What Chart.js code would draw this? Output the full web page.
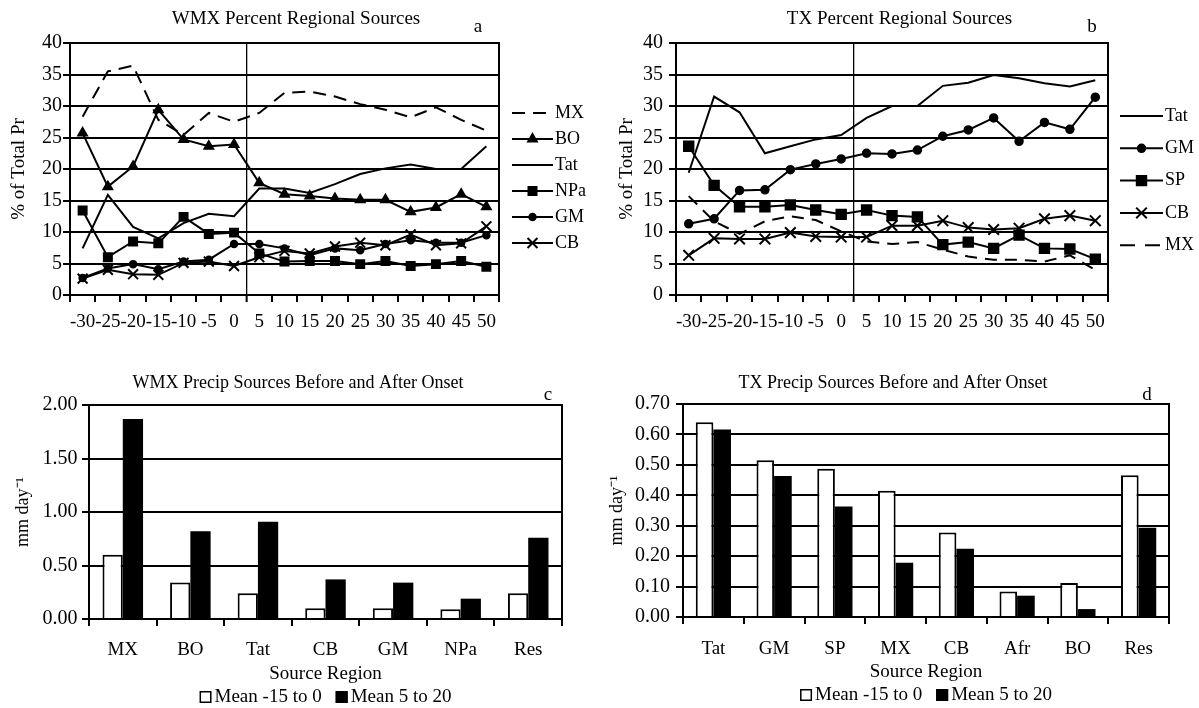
<!DOCTYPE html>
<html><head><meta charset="utf-8">
<script src="https://cdn.jsdelivr.net/npm/chart.js@4.4.1/dist/chart.umd.min.js"></script>
<style>
html,body{margin:0;padding:0;background:#fff;}
body{width:1199px;height:708px;position:relative;overflow:hidden;}
canvas{position:absolute;display:block;}
</style></head><body>
<canvas id="ca" width="592" height="345" style="left:0;top:0"></canvas>
<canvas id="cb" width="599" height="345" style="left:600px;top:0"></canvas>
<canvas id="cc" width="596" height="348" style="left:0;top:360px"></canvas>
<canvas id="cd" width="586" height="348" style="left:600px;top:360px"></canvas>
<script>
// ---------- DATA ----------
const days = ['-30','-25','-20','-15','-10','-5','0','5','10','15','20','25','30','35','40','45','50'];

// Panel a: WMX percent regional sources
const wmxMX  = [28.3,35.5,36.4,27.8,25.4,28.9,27.5,28.9,32.1,32.3,31.5,30.3,29.4,28.2,29.8,27.8,26.1];
const wmxBO  = [25.7,17.2,20.4,29.4,24.7,23.6,23.9,17.8,16.0,15.7,15.3,15.1,15.1,13.2,13.9,16.0,14.0];
const wmxTat = [7.4,15.9,10.8,9.0,11.4,12.9,12.5,16.9,16.9,16.2,17.6,19.2,20.1,20.7,20.0,20.0,23.6];
const wmxNPa = [13.4,6.0,8.5,8.2,12.4,9.7,9.9,6.6,5.3,5.4,5.4,4.9,5.4,4.6,4.9,5.4,4.5];
const wmxGM  = [2.7,4.2,4.9,4.1,5.3,5.6,8.1,8.1,7.4,6.3,7.4,7.1,8.1,8.7,8.3,8.3,9.5];
const wmxCB  = [2.6,4.0,3.3,3.2,5.1,5.3,4.6,6.0,7.0,6.6,7.7,8.3,7.9,9.6,7.9,8.2,10.9];

// Panel b: TX percent regional sources
const txTat = [19.4,31.5,29.0,22.5,23.6,24.7,25.4,28.1,30.0,30.0,33.2,33.7,34.9,34.4,33.6,33.1,34.1];
const txGM  = [11.3,12.1,16.6,16.7,19.9,20.8,21.6,22.5,22.4,23.0,25.2,26.2,28.1,24.4,27.4,26.3,31.4];
const txSP  = [23.6,17.4,14.0,14.0,14.3,13.5,12.8,13.5,12.6,12.4,8.0,8.4,7.4,9.5,7.4,7.3,5.7];
const txCB  = [6.3,9.0,8.9,8.9,9.9,9.3,9.2,9.2,11.0,11.0,11.8,10.7,10.4,10.6,12.1,12.6,11.8];
const txMX  = [15.7,11.7,9.7,11.7,12.5,11.9,10.1,8.5,8.1,8.4,7.2,6.1,5.6,5.6,5.3,6.3,4.0];

// Panel c: WMX precip sources (mm/day)
const wmxRegions = ['MX','BO','Tat','CB','GM','NPa','Res'];
const wmxBefore  = [0.60,0.34,0.24,0.10,0.10,0.09,0.24];
const wmxAfter   = [1.87,0.82,0.91,0.37,0.34,0.19,0.76];

// Panel d: TX precip sources (mm/day)
const txRegions = ['Tat','GM','SP','MX','CB','Afr','BO','Res'];
const txBefore  = [0.64,0.515,0.487,0.415,0.278,0.084,0.112,0.466];
const txAfter   = [0.616,0.463,0.363,0.178,0.224,0.070,0.026,0.293];

const legendBefore = 'Mean -15 to 0';
const legendAfter  = 'Mean 5 to 20';

// ---------- STYLE ----------
const SERIF = "'Liberation Serif','Times New Roman',serif";
Chart.defaults.font.family = SERIF;
Chart.defaults.color = '#000';
Chart.defaults.animation = false;

const framePlugin = {
  id: 'frame',
  beforeDatasetsDraw(chart) {
    const a = chart.chartArea, ctx = chart.ctx;
    ctx.save(); ctx.strokeStyle = '#000'; ctx.lineWidth = 2;
    ctx.strokeRect(a.left, a.top, a.right - a.left, a.bottom - a.top);
    ctx.restore();
  }
};

const annotPlugin = {
  id: 'annot',
  afterDraw(chart, args, o) {
    const ctx = chart.ctx;
    ctx.save();
    ctx.fillStyle = '#000'; ctx.strokeStyle = '#000';
    if (o.letter) {
      ctx.font = '19px ' + SERIF; ctx.textAlign = 'center'; ctx.textBaseline = 'alphabetic';
      ctx.fillText(o.letter.text, o.letter.x, o.letter.y);
    }
    if (o.lines) {
      const L = o.lines;
      ctx.font = '18px ' + SERIF; ctx.textAlign = 'left'; ctx.textBaseline = 'middle';
      L.order.forEach((di, i) => {
        const ds = chart.data.datasets[di];
        const y = L.y0 + i * L.dy;
        ctx.lineWidth = 2; ctx.setLineDash(ds.legendDash || ds.borderDash || []);
        ctx.beginPath(); ctx.moveTo(L.x0, y); ctx.lineTo(L.x0 + L.len, y); ctx.stroke();
        ctx.setLineDash([]);
        if (ds.pointRadius > 0) {
          ctx.fillStyle = '#000'; ctx.lineWidth = ds.pointBorderWidth || 1.5;
          Chart.helpers.drawPoint(ctx, {pointStyle: ds.pointStyle, radius: ds.pointRadius, borderWidth: ds.pointBorderWidth || 1.5, rotation: 0}, L.x0 + L.len / 2, y);
        }
        ctx.fillStyle = '#000';
        ctx.fillText(ds.label, L.x0 + L.len + 2, y);
      });
    }
    if (o.boxes) {
      const B = o.boxes;
      ctx.font = '19px ' + SERIF; ctx.textAlign = 'left'; ctx.textBaseline = 'middle';
      const items = chart.data.datasets.map(ds => ({ds, w: B.box + B.gap + ctx.measureText(ds.label).width}));
      const total = items.reduce((s, it) => s + it.w, 0) + B.itemGap * (items.length - 1);
      const a = chart.chartArea;
      let x = (a.left + a.right) / 2 - total / 2;
      items.forEach(it => {
        ctx.fillStyle = it.ds.backgroundColor; ctx.strokeStyle = '#000'; ctx.lineWidth = 1.5;
        ctx.fillRect(x, B.y - B.box / 2, B.box, B.box);
        ctx.strokeRect(x + 0.75, B.y - B.box / 2 + 0.75, B.box - 1.5, B.box - 1.5);
        ctx.fillStyle = '#000';
        ctx.fillText(it.ds.label, x + B.box + B.gap, B.y);
        x += it.w + B.itemGap;
      });
    }
    ctx.restore();
  }
};

function lineDs(label, data, style) {
  return Object.assign({label, data, borderColor: '#000', backgroundColor: '#000', borderWidth: 2,
    pointBackgroundColor: '#000', pointBorderColor: '#000', pointBorderWidth: 1.5, tension: 0, fill: false,
    pointRadius: 0, pointHoverRadius: 0}, style);
}

function lineChart(id, title, datasets, geo) {
  return new Chart(document.getElementById(id), {
    type: 'line',
    data: {labels: days, datasets},
    plugins: [framePlugin, annotPlugin],
    options: {
      responsive: false, animation: false,
      layout: {padding: 0},
      plugins: {
        legend: {display: false}, tooltip: {enabled: false},
        title: {display: true, text: title, color: '#000', font: {size: 19, weight: 'normal'}, padding: {top: 7.6, bottom: 12.6}},
        annot: {letter: geo.letter, lines: geo.lines}
      },
      scales: {
        x: {
          type: 'category', offset: true,
          grid: {offset: true, drawOnChartArea: true, drawTicks: true, tickLength: 7, tickColor: '#000', tickWidth: 2,
            color: c => (c.index === 7 ? '#000' : 'rgba(0,0,0,0)'), lineWidth: c => (c.index === 7 ? 1.3 : 2)},
          border: {display: true, color: '#000', width: 2},
          ticks: {font: {size: 19}, color: '#000', padding: geo.xPad, maxRotation: 0, minRotation: 0, autoSkip: false},
          afterFit: s => { s.height = 50; }
        },
        y: {
          min: 0, max: 40,
          ticks: {stepSize: 5, font: {size: 20}, color: '#000', padding: geo.yPad},
          grid: {color: '#000', lineWidth: 2, tickLength: 7},
          border: {display: true, color: '#000', width: 2},
          title: {display: true, text: '% of Total Pr', color: '#000', font: {size: 19}, padding: {top: geo.yTitlePad, bottom: 0}},
          afterFit: s => { s.width = geo.left; }
        },
        yR: {
          position: 'right', display: true,
          grid: {display: false}, ticks: {display: false}, border: {display: false},
          afterFit: s => { s.width = geo.right; }
        }
      }
    }
  });
}

function barChart(id, title, labels, before, after, geo) {
  return new Chart(document.getElementById(id), {
    type: 'bar',
    data: {labels, datasets: [
      {label: legendBefore, data: before, backgroundColor: '#fff', borderColor: '#000', borderWidth: 2},
      {label: legendAfter, data: after, backgroundColor: '#000', borderColor: '#000', borderWidth: 0}
    ]},
    plugins: [framePlugin, annotPlugin],
    options: {
      responsive: false, animation: false,
      categoryPercentage: geo.catPct, barPercentage: 1.0,
      layout: {padding: {bottom: geo.padBottom}},
      plugins: {
        legend: {display: false}, tooltip: {enabled: false},
        title: {display: true, text: title, color: '#000', font: {size: 18, weight: 'normal'}, padding: {top: 12.2, bottom: geo.titleBottom}},
        annot: {letter: geo.letter, boxes: {y: geo.legendY, box: 12, gap: 3, itemGap: 14}}
      },
      scales: {
        x: {
          grid: {offset: true, drawOnChartArea: false, tickLength: 7, color: '#000', lineWidth: 2},
          border: {display: true, color: '#000', width: 2},
          ticks: {font: {size: 19}, color: '#000', padding: geo.xPad, maxRotation: 0, autoSkip: false},
          title: {display: true, text: 'Source Region', color: '#000', font: {size: 19}, padding: {top: 0, bottom: 0}},
          afterFit: s => { s.height = 66.4; }
        },
        y: {
          min: 0, max: geo.max,
          ticks: {stepSize: geo.step, font: {size: 20}, color: '#000', padding: geo.yPad, callback: v => Number(v).toFixed(2)},
          grid: {color: '#000', lineWidth: 2, tickLength: 7},
          border: {display: true, color: '#000', width: 2},
          title: {display: true, text: 'mm day\u207B\u00B9', color: '#000', font: {size: 18}, padding: {top: geo.yTitlePad, bottom: 0}},
          afterFit: s => { s.width = geo.left; }
        },
        yR: {
          position: 'right', display: true,
          grid: {display: false}, ticks: {display: false}, border: {display: false},
          afterFit: s => { s.width = geo.right; }
        }
      }
    }
  });
}

lineChart('ca', 'WMX Percent Regional Sources', [
  lineDs('MX', wmxMX, {borderDash: [13, 8]}),
  lineDs('BO', wmxBO, {pointStyle: 'triangle', pointRadius: 5.5}),
  lineDs('Tat', wmxTat, {}),
  lineDs('NPa', wmxNPa, {pointStyle: 'rect', pointRadius: 6}),
  lineDs('GM', wmxGM, {pointStyle: 'circle', pointRadius: 3.5}),
  lineDs('CB', wmxCB, {pointStyle: 'crossRot', pointRadius: 7, pointBorderWidth: 2})
], {left: 70, right: 93, xPad: 8.6, yPad: 1, yTitlePad: 7.6,
    letter: {text: 'a', x: 478, y: 32},
    lines: {order: [0,1,2,3,4,5], x0: 512, len: 41, y0: 113, dy: 26}});

lineChart('cb', 'TX Percent Regional Sources', [
  lineDs('Tat', txTat, {}),
  lineDs('GM', txGM, {pointStyle: 'circle', pointRadius: 4}),
  lineDs('SP', txSP, {pointStyle: 'rect', pointRadius: 7}),
  lineDs('CB', txCB, {pointStyle: 'crossRot', pointRadius: 7.5, pointBorderWidth: 2}),
  lineDs('MX', txMX, {borderDash: [12, 8], legendDash: [15, 10]})
], {left: 76, right: 91, xPad: 8.6, yPad: 6, yTitlePad: 15.6,
    letter: {text: 'b', x: 492, y: 32},
    lines: {order: [0,1,2,3,4], x0: 520, len: 43, y0: 116, dy: 32.3}});

barChart('cc', 'WMX Precip Sources Before and After Onset', wmxRegions, wmxBefore, wmxAfter,
  {left: 89, right: 34, max: 2, step: 0.5, catPct: 0.6, padBottom: 22.6, titleBottom: 11.2,
   xPad: 12.6, yPad: 4.5, yTitlePad: 12.2, legendY: 337, letter: {text: 'c', x: 548, y: 40}});

barChart('cd', 'TX Precip Sources Before and After Onset', txRegions, txBefore, txAfter,
  {left: 83, right: 17, max: 0.7, step: 0.1, catPct: 0.58, padBottom: 24.6, titleBottom: 10.2,
   xPad: 13.6, yPad: 6, yTitlePad: 6.2, legendY: 335, letter: {text: 'd', x: 547, y: 40}});
</script>
</body></html>
